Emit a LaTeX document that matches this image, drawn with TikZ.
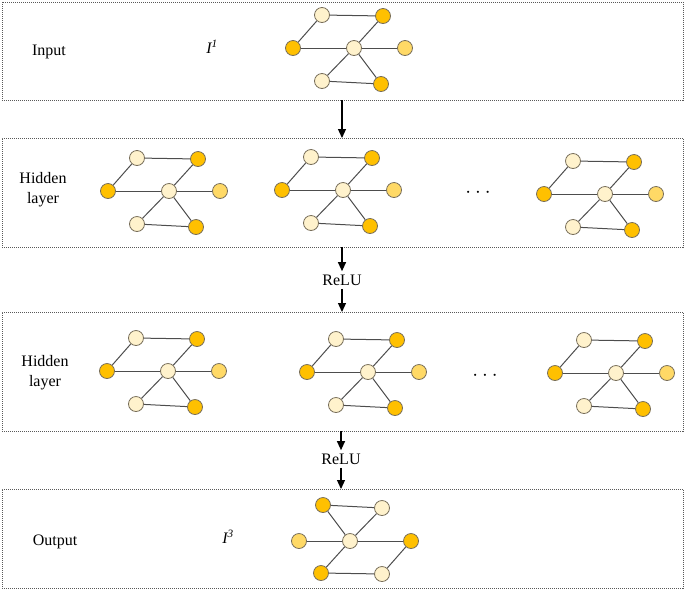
\documentclass[tikz,border=0pt]{standalone}
\usepackage{fontspec}
\setmainfont{Liberation Serif}
\usetikzlibrary{arrows.meta}

\definecolor{paleyel}{HTML}{FFF2CC}
\definecolor{orangeyel}{HTML}{FFC000}
\definecolor{goldyel}{HTML}{FFD966}
\definecolor{ringcol}{RGB}{120,110,90}
\definecolor{edgecol}{HTML}{4D4D4D}

% one small graph: name, centre x, centre y, rotation
\newcommand{\gnet}[4]{%
  \begin{scope}[shift={(#2,#3)}, rotate=#4]
    \node[Pale]   (#1c)  at (0, 0)     {};
    \node[Pale]   (#1tl) at (-32, -33) {};
    \node[Orange] (#1tr) at (29, -32)  {};
    \node[Orange] (#1l)  at (-61, 0)   {};
    \node[Gold]   (#1r)  at (51, 0)    {};
    \node[Pale]   (#1bl) at (-32, 33)  {};
    \node[Orange] (#1br) at (27, 36)   {};
    \begin{scope}[on background layer]
      \draw[Edge] (#1tl) -- (#1tr);
      \draw[Edge] (#1tl) -- (#1l);
      \draw[Edge] (#1l) -- (#1c);
      \draw[Edge] (#1c) -- (#1tr);
      \draw[Edge] (#1c) -- (#1r);
      \draw[Edge] (#1c) -- (#1bl);
      \draw[Edge] (#1c) -- (#1br);
      \draw[Edge] (#1bl) -- (#1br);
    \end{scope}
  \end{scope}}

\usetikzlibrary{backgrounds}

\begin{document}
\begin{tikzpicture}[x=1pt, y=-1pt, font=\fontsize{16}{20}\selectfont]
    \tikzset{Layer/.style={shape=rectangle, draw=black!65, dash pattern=on 1pt off 1pt, line width=0.9pt, minimum width=681pt, outer sep=0pt}}
    \tikzset{Pale/.style={shape=circle, draw=ringcol, fill=paleyel, line width=0.8pt, minimum size=15pt, inner sep=0pt}}
    \tikzset{Orange/.style={Pale, fill=orangeyel}}
    \tikzset{Gold/.style={Pale, fill=goldyel}}
    \tikzset{Edge/.style={draw=edgecol, line width=1pt}}
    \tikzset{Flow/.style={-{Triangle[length=9pt, width=8pt]}, line width=1.2pt}}
    \useasboundingbox (0, 0) rectangle (685, 590);

    % layer boxes
    \node[Layer, minimum height=98pt]  (inbox)  at (342.5, 51)    {};
    \node[Layer, minimum height=109pt] (hbox1)  at (342.5, 192.5) {};
    \node[Layer, minimum height=119pt] (hbox2)  at (342.5, 371.5) {};
    \node[Layer, minimum height=99pt]  (outbox) at (342.5, 538.5) {};

    % labels
    \node (inlab)  at (49, 52)  {Input};
    \node (inI)    at (212, 47) {\textit{I\textsuperscript{1}}};
    \node[align=center] (hlab1) at (43, 190) {Hidden\\layer};
    \node[align=center] (hlab2) at (45, 373) {Hidden\\layer};
    \node (outlab) at (55, 542)  {Output};
    \node (outI)   at (228, 537) {\textit{I\textsuperscript{3}}};
    \node (relu1)  at (342, 280) {ReLU};
    \node (relu2)  at (341, 459) {ReLU};
    \node[font=\fontsize{22}{22}\selectfont] (dots1) at (478, 193) {$\cdot$\hspace{4pt}$\cdot$\hspace{4pt}$\cdot$};
    \node[font=\fontsize{22}{22}\selectfont] (dots2) at (485, 376) {$\cdot$\hspace{4pt}$\cdot$\hspace{4pt}$\cdot$};

    % graphs
    \gnet{g0}{354}{48}{0}
    \gnet{ga}{169}{191}{0}
    \gnet{gb}{343}{190}{0}
    \gnet{gc}{605}{194}{0}
    \gnet{gd}{168}{371}{0}
    \gnet{ge}{368}{372}{0}
    \gnet{gf}{616}{373}{0}
    \gnet{gz}{350}{541}{180}

    % arrows
    \draw[Flow] (inbox.south -| relu1) -- (hbox1.north -| relu1);
    \draw[Flow] (hbox1.south -| relu1) -- (relu1);
    \draw[Flow] (relu1) -- (hbox2.north -| relu1);
    \draw[Flow] (hbox2.south -| relu2) -- (relu2);
    \draw[Flow] (relu2) -- (outbox.north -| relu2);
\end{tikzpicture}
\end{document}
